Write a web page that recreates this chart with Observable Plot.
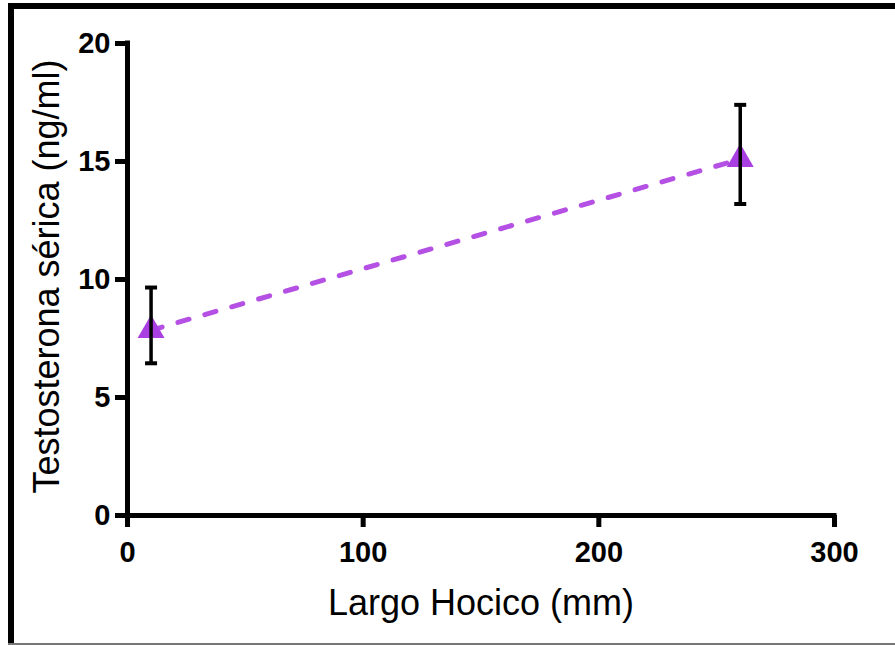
<!DOCTYPE html>
<html>
<head>
<meta charset="utf-8">
<script src="https://cdn.jsdelivr.net/npm/d3@7"></script>
<script src="https://cdn.jsdelivr.net/npm/@observablehq/plot@0.6"></script>
<style>
  html, body { margin: 0; padding: 0; background: #fff; }
  #wrap { position: relative; width: 895px; height: 645px; overflow: hidden; background: #fff; }
  #wrap svg { position: absolute; left: 0; top: 0; }
  .bd { position: absolute; background: #000; }
</style>
</head>
<body>
<div id="wrap">
  <div class="bd" style="left:8px; top:3px; width:6px; height:642px;"></div>
  <div class="bd" style="left:8px; top:3px; width:887px; height:6px;"></div>
  <div class="bd" style="left:8px; top:643px; width:887px; height:2px; background:#777;"></div>
</div>
<script>
// Data
const xValues = [10, 260];
const yMeans = [7.85, 15.1];
const yLow = [6.45, 13.2];
const yHigh = [9.66, 17.4];
const xTicks = [0, 100, 200, 300];
const yTicks = [0, 5, 10, 15, 20];
const xLabel = "Largo Hocico (mm)";
const yLabel = "Testosterona sérica (ng/ml)";

const data = xValues.map((x, i) => ({x, y: yMeans[i], lo: yLow[i], hi: yHigh[i]}));

const purple = "#a93fe2";
const linePurple = "#b450e3";

const capSymbol = {
  draw(ctx, size) {
    const r = Math.sqrt(size / Math.PI);
    ctx.moveTo(-r, 0);
    ctx.lineTo(r, 0);
  }
};

const chart = Plot.plot({
  width: 895,
  height: 645,
  marginLeft: 127,
  marginRight: 61,
  marginTop: 43,
  marginBottom: 130,
  style: {fontFamily: "'Liberation Sans', Arial, sans-serif", background: "transparent", overflow: "visible", color: "#000"},
  x: {domain: [0, 300], ticks: xTicks},
  y: {domain: [0, 20], ticks: yTicks},
  marks: [
    Plot.line(data, {x: "x", y: "y", stroke: linePurple, strokeWidth: 5, strokeDasharray: "11.5,16.5", strokeLinecap: "round"}),
    Plot.dot(data, {x: "x", y: "y", symbol: "triangle", r: 10, fill: purple, stroke: "none"}),
    Plot.ruleX(data, {x: "x", y1: "lo", y2: "hi", stroke: "#000", strokeWidth: 3.5}),
    Plot.dot(data, {x: "x", y: "hi", symbol: capSymbol, r: 6, fill: "none", stroke: "#000", strokeWidth: 4}),
    Plot.dot(data, {x: "x", y: "lo", symbol: capSymbol, r: 6, fill: "none", stroke: "#000", strokeWidth: 4}),
    Plot.ruleX([0], {stroke: "#000", strokeWidth: 5, strokeLinecap: "square"}),
    Plot.ruleY([0], {stroke: "#000", strokeWidth: 5, strokeLinecap: "square"}),
    Plot.axisY(yTicks, {tickSize: 12, tickPadding: 5, strokeWidth: 5, fontSize: 29, fontWeight: "bold", label: null}),
    Plot.axisX(xTicks, {tickSize: 12, tickPadding: 14, strokeWidth: 5, fontSize: 29, fontWeight: "bold", label: null}),
    Plot.text([xLabel], {text: d => d, frameAnchor: "bottom", dy: 87.5, fontSize: 36, textAnchor: "middle", lineAnchor: "middle", fill: "#000"}),
    Plot.text([yLabel], {text: d => d, frameAnchor: "left", rotate: -90, dx: -80, dy: -3, fontSize: 36, textAnchor: "middle", lineAnchor: "middle", fill: "#000"})
  ]
});
document.getElementById("wrap").appendChild(chart);
</script>
</body>
</html>
